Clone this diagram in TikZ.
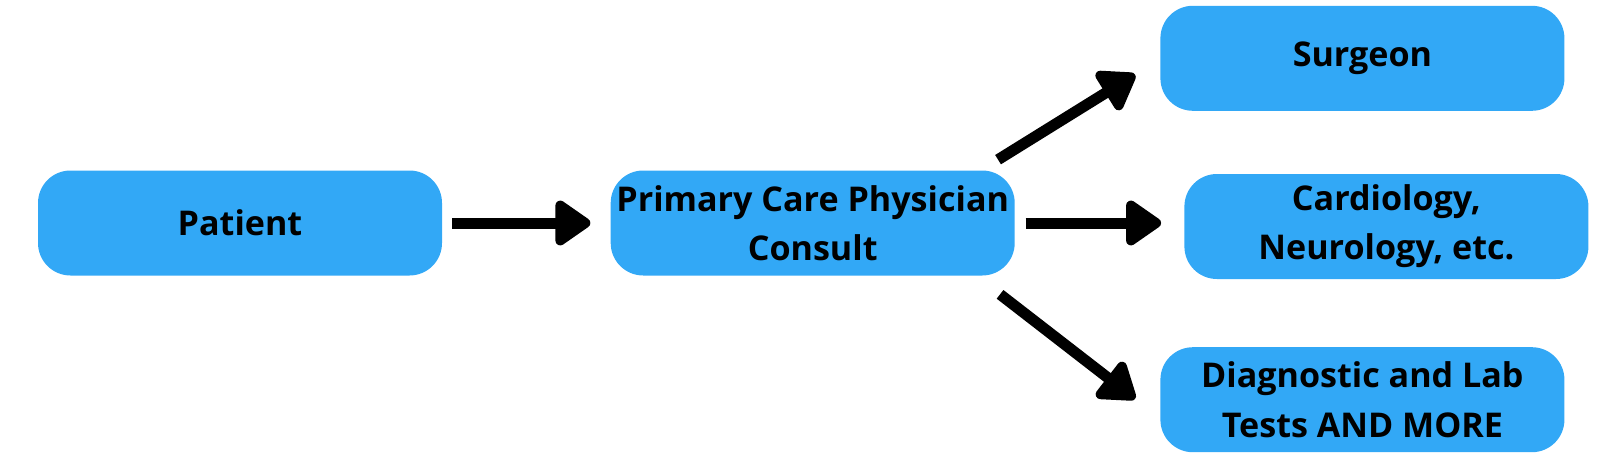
\documentclass[tikz,border=0pt]{standalone}
\usepackage{fontspec}
\setmainfont{Open Sans}
\usepackage{tikz}
\usetikzlibrary{arrows.meta, positioning}

\definecolor{boxblue}{RGB}{50,168,246}

\begin{document}
\begin{tikzpicture}[node distance=3.36cm,>={Triangle[length=0.78cm,width=1.02cm,round]},
    box/.style={rectangle, rounded corners=0.65cm, fill=boxblue, minimum width=8.08cm,
      minimum height=2.1cm, align=center, inner sep=0pt,
      font=\bfseries\fontsize{19.4}{28}\selectfont},
    link/.style={->, line width=0.22cm}]
      \useasboundingbox (0,0) rectangle (32,9.34);

      \node[box] (patient) at (4.8,4.88) {Patient};
      \node[box] (pcp) [right = of patient] {Primary Care Physician\\Consult};
      \node[box] (spec) [right = 3.38cm of pcp, yshift=-0.07cm] {Cardiology,\\Neurology, etc.};
      \node[box] (surgeon) [above = 1.25cm of spec, xshift=-0.48cm] {Surgeon};
      \node[box] (tests) [below = 1.35cm of spec, xshift=-0.48cm] {Diagnostic and Lab\\Tests AND MORE};

      \coordinate [above left = 0.21cm and 0.34cm of pcp.north east] (up from);
      \coordinate [above left = 0.73cm and 0.5cm of surgeon.south west] (up to);
      \coordinate [below left = 0.37cm and 0.3cm of pcp.south east] (down from);
      \coordinate [below left = 1.04cm and 0.5cm of tests.north west] (down to);

      \draw[link, shorten <=0.2cm, shorten >=0.4cm] (patient.east) -- (pcp.west);
      \draw[link, shorten <=0.21cm, shorten >=0.46cm] (pcp.east) -- (pcp.east -| spec.west);
      \draw[link] (up from) -- (up to);
      \draw[link] (down from) -- (down to);
    \end{tikzpicture}
\end{document}
